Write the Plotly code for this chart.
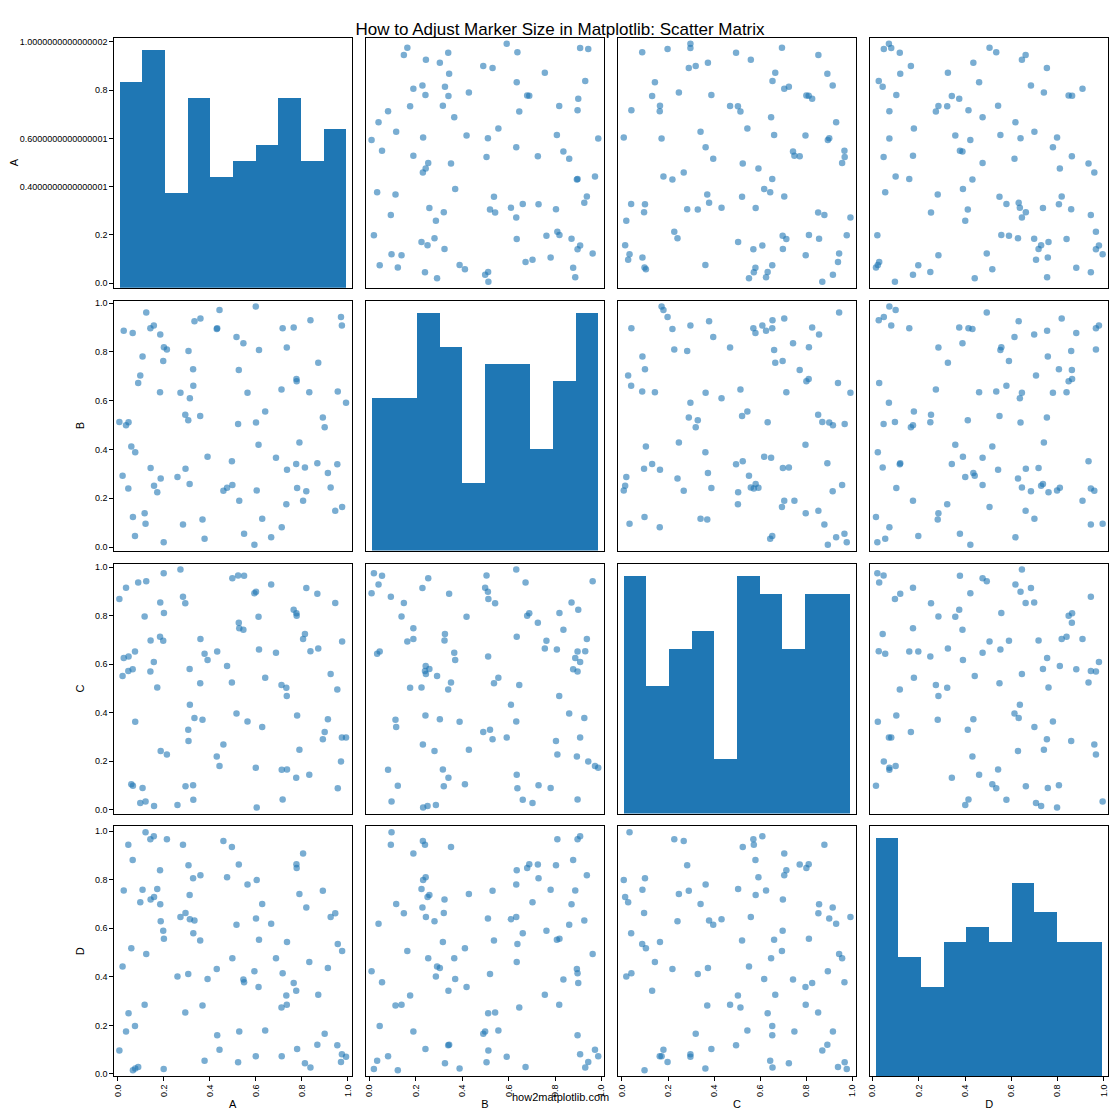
import numpy as np
import plotly.graph_objects as go

# values (same point index across A, B, C, D)
A = [0.006, 0.020, 0.025, 0.035, 0.045, 0.046, 0.058, 0.064, 0.065, 0.074,
     0.075, 0.088, 0.097, 0.107, 0.116, 0.120, 0.123, 0.141, 0.142, 0.156,
     0.157, 0.171, 0.183, 0.184, 0.186, 0.197, 0.199, 0.200, 0.213, 0.259,
     0.272, 0.283, 0.293, 0.294, 0.306, 0.307, 0.312, 0.313, 0.327, 0.328,
     0.333, 0.358, 0.359, 0.368, 0.377, 0.390, 0.430, 0.432, 0.442, 0.459,
     0.475, 0.496, 0.498, 0.516, 0.523, 0.526, 0.528, 0.546, 0.549, 0.564,
     0.594, 0.600, 0.601, 0.604, 0.612, 0.614, 0.628, 0.641, 0.667, 0.688,
     0.712, 0.713, 0.717, 0.733, 0.735, 0.736, 0.765, 0.777, 0.778, 0.776,
     0.780, 0.790, 0.806, 0.814, 0.820, 0.833, 0.838, 0.868, 0.872, 0.892,
     0.900, 0.914, 0.926, 0.946, 0.955, 0.957, 0.971, 0.975, 0.976, 0.993]

B = [0.513, 0.292, 0.887, 0.499, 0.240, 0.512, 0.412, 0.878, 0.123, 0.045,
     0.389, 0.673, 0.703, 0.781, 0.139, 0.096, 0.962, 0.897, 0.324, 0.908,
     0.251, 0.225, 0.635, 0.871, 0.281, 0.763, 0.020, 0.819, 0.810, 0.287,
     0.633, 0.093, 0.542, 0.321, 0.520, 0.804, 0.259, 0.610, 0.729, 0.661,
     0.926, 0.537, 0.937, 0.113, 0.034, 0.370, 0.894, 0.897, 0.972, 0.231,
     0.243, 0.352, 0.254, 0.861, 0.505, 0.726, 0.190, 0.836, 0.055, 0.633,
     0.010, 0.986, 0.511, 0.232, 0.419, 0.808, 0.116, 0.556, 0.040, 0.366,
     0.646, 0.081, 0.897, 0.176, 0.818, 0.317, 0.900, 0.689, 0.680, 0.341,
     0.242, 0.429, 0.190, 0.326, 0.229, 0.635, 0.930, 0.344, 0.756, 0.531,
     0.491, 0.304, 0.244, 0.149, 0.340, 0.638, 0.943, 0.908, 0.164, 0.592]

C = [0.869, 0.551, 0.625, 0.915, 0.572, 0.632, 0.104, 0.579, 0.098, 0.652,
     0.362, 0.937, 0.027, 0.089, 0.797, 0.033, 0.942, 0.570, 0.698, 0.609,
     0.014, 0.504, 0.713, 0.855, 0.241, 0.697, 0.975, 0.811, 0.227, 0.019,
     0.991, 0.878, 0.851, 0.096, 0.329, 0.283, 0.580, 0.432, 0.100, 0.040,
     0.378, 0.521, 0.704, 0.370, 0.643, 0.617, 0.219, 0.652, 0.180, 0.268,
     0.592, 0.524, 0.955, 0.396, 0.966, 0.771, 0.748, 0.742, 0.965, 0.363,
     0.893, 0.172, 0.899, 0.008, 0.796, 0.660, 0.341, 0.544, 0.929, 0.647,
     0.514, 0.164, 0.041, 0.503, 0.469, 0.165, 0.825, 0.810, 0.800, 0.131,
     0.388, 0.247, 0.704, 0.724, 0.914, 0.143, 0.653, 0.891, 0.665, 0.290,
     0.320, 0.373, 0.559, 0.852, 0.495, 0.088, 0.198, 0.297, 0.694, 0.297]

D = [0.097, 0.442, 0.755, 0.175, 0.944, 0.250, 0.518, 0.881, 0.015, 0.198,
     0.023, 0.029, 0.707, 0.758, 0.285, 0.995, 0.494, 0.966, 0.718, 0.979,
     0.729, 0.761, 0.839, 0.699, 0.629, 0.590, 0.021, 0.557, 0.966, 0.401,
     0.646, 0.944, 0.253, 0.663, 0.412, 0.859, 0.737, 0.637, 0.806, 0.579,
     0.632, 0.549, 0.818, 0.282, 0.055, 0.391, 0.432, 0.159, 0.100, 0.959,
     0.810, 0.934, 0.476, 0.614, 0.048, 0.862, 0.175, 0.389, 0.378, 0.780,
     0.423, 0.073, 0.640, 0.798, 0.358, 0.553, 0.700, 0.179, 0.618, 0.476,
     0.274, 0.073, 0.415, 0.323, 0.285, 0.543, 0.375, 0.863, 0.848, 0.343,
     0.103, 0.741, 0.908, 0.044, 0.685, 0.461, 0.027, 0.120, 0.326, 0.754,
     0.166, 0.436, 0.646, 0.662, 0.118, 0.535, 0.049, 0.081, 0.506, 0.071]

columns = ["A", "B", "C", "D"]
tick_vals = [0.0, 0.2, 0.4, 0.6, 0.8, 1.0]
tick_text = ["0.0", "0.2", "0.4", "0.6", "0.8", "1.0"]
corner_text = ["0.0", "0.2", "0.4000000000000001", "0.6000000000000001",
               "0.8", "1.0000000000000002"]

data = {"A": np.array(A), "B": np.array(B), "C": np.array(C), "D": np.array(D)}
n = len(columns)

# page body adds an 8px margin, so the figure is drawn 8px smaller and shifted
OFF = 8
W = H = 1120 - OFF
col_left = [113.7 - OFF, 365.9 - OFF, 618.1 - OFF, 870.3 - OFF]
row_top = [37.7 - OFF, 300.6 - OFF, 563.5 - OFF, 826.3 - OFF]
pw, ph = 238.0, 250.0

# padded limits like pandas scatter_matrix (range_padding=0.05)
limits = {}
for c in columns:
    lo, hi = data[c].min(), data[c].max()
    ext = (hi - lo) * 0.05 / 2
    limits[c] = [lo - ext, hi + ext]

blue = "#1f77b4"
font_family = "Liberation Sans, Arial, sans-serif"
axis_font = dict(family=font_family, size=9, color="black")
label_font = dict(family=font_family, size=11, color="black")

fig = go.Figure()

for i, rc in enumerate(columns):        # row variable (y)
    for j, cc in enumerate(columns):    # column variable (x)
        k = i * n + j + 1
        xa = "x" if k == 1 else f"x{k}"
        ya = "y" if k == 1 else f"y{k}"
        xkey = "xaxis" if k == 1 else f"xaxis{k}"
        ykey = "yaxis" if k == 1 else f"yaxis{k}"

        xdom = [col_left[j] / W, (col_left[j] + pw) / W]
        ydom = [1 - (row_top[i] + ph) / H, 1 - row_top[i] / H]

        xaxis = dict(domain=xdom, anchor=ya, range=limits[cc], showgrid=False,
                     zeroline=False, showline=True, mirror=True, linecolor="black",
                     linewidth=1, ticks="", showticklabels=False, tickfont=axis_font,
                     automargin=False)
        yaxis = dict(domain=ydom, anchor=xa, showgrid=False, zeroline=False,
                     showline=True, mirror=True, linecolor="black", linewidth=1,
                     ticks="", showticklabels=False, tickfont=axis_font,
                     automargin=False)

        if i == j:
            counts, edges = np.histogram(data[cc], bins=10)
            centers = (edges[:-1] + edges[1:]) / 2
            fig.add_trace(go.Bar(x=centers, y=counts, width=edges[1] - edges[0],
                                 marker=dict(color=blue, line=dict(width=0)),
                                 xaxis=xa, yaxis=ya, showlegend=False))
            top = counts.max() * 1.05
            yaxis["range"] = [0, top]
            if i == 0:
                lo, hi = limits[cc]
                yaxis["tickvals"] = [(v - lo) / (hi - lo) * top for v in tick_vals]
                yaxis["ticktext"] = corner_text
        else:
            fig.add_trace(go.Scatter(x=data[cc], y=data[rc], mode="markers",
                                     marker=dict(color=blue, size=6.5, opacity=0.6,
                                                 line=dict(width=0)),
                                     xaxis=xa, yaxis=ya, showlegend=False))
            yaxis["range"] = limits[rc]
            yaxis["tickvals"] = tick_vals
            yaxis["ticktext"] = tick_text

        if j == 0:
            yaxis.update(ticks="outside", ticklen=3.5, tickwidth=0.8, tickcolor="black",
                         showticklabels=True,
                         title=dict(text=rc, font=label_font, standoff=8))
        if i == n - 1:
            xaxis.update(ticks="outside", ticklen=3.5, tickwidth=0.8, tickcolor="black",
                         showticklabels=True, tickvals=tick_vals, ticktext=tick_text,
                         tickangle=-90,
                         title=dict(text=cc, font=label_font, standoff=4))
        fig.layout[xkey] = xaxis
        fig.layout[ykey] = yaxis

fig.update_layout(
    width=W, height=H,
    margin=dict(l=0, r=0, t=0, b=0, autoexpand=False),
    plot_bgcolor="white", paper_bgcolor="white",
    bargap=0,
    title=dict(text="How to Adjust Marker Size in Matplotlib: Scatter Matrix",
               x=(560 - OFF) / W, xanchor="center", y=1 - (29 - OFF) / H, yanchor="middle",
               font=dict(family=font_family, size=17, color="black")),
)

fig.add_annotation(text="how2matplotlib.com", xref="paper", yref="paper",
                   x=(560 - OFF) / W, y=1 - (1097 - OFF) / H, xanchor="center",
                   yanchor="middle", showarrow=False,
                   font=dict(family=font_family, size=11, color="black"))

fig.write_html("out.html")
